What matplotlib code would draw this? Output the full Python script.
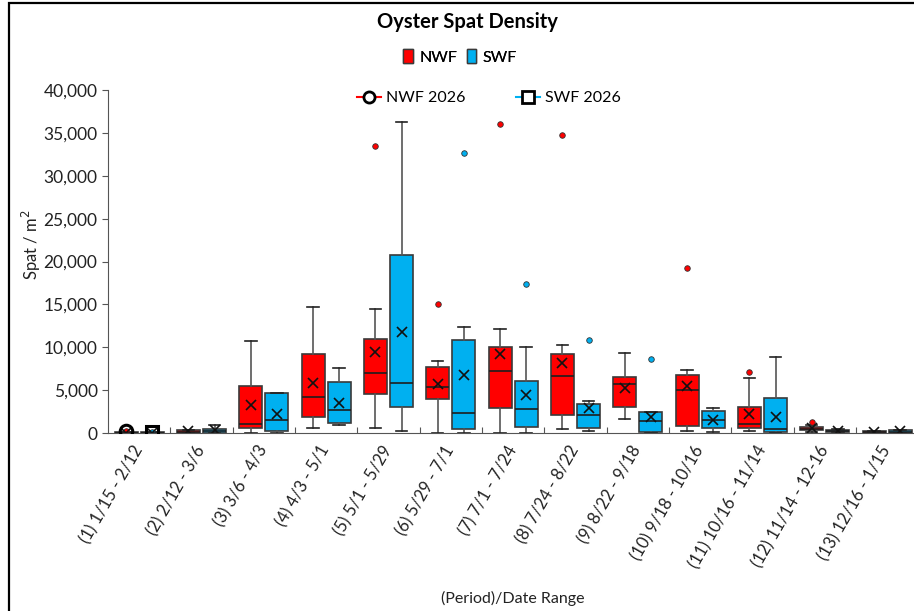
import matplotlib
matplotlib.use("Agg")
import matplotlib.pyplot as plt
from matplotlib.patches import Patch, Rectangle
from matplotlib.lines import Line2D
from matplotlib.ticker import FuncFormatter, MultipleLocator

plt.rcParams["font.family"] = ["Lato", "DejaVu Sans"]

# ── data ─────────────────────────────────────────────────────
periods = ["(1) 1/15 - 2/12", "(2) 2/12 - 3/6", "(3) 3/6 - 4/3", "(4) 4/3 - 5/1",
           "(5) 5/1 - 5/29", "(6) 5/29 - 7/1", "(7) 7/1 - 7/24", "(8) 7/24 - 8/22",
           "(9) 8/22 - 9/18", "(10) 9/18 - 10/16", "(11) 10/16 - 11/14",
           "(12) 11/14 - 12-16", "(13) 12/16 - 1/15"]

nwf_lo = [0, 0, 0, 550, 550, 0, 0, 430, 1630, 200, 230, 150, 0]
nwf_q1 = [0, 40, 550, 1830, 4590, 3970, 2880, 2100, 3070, 820, 550, 320, 30]
nwf_med = [20, 120, 1010, 4160, 7040, 5330, 7230, 6610, 5750, 4980, 1010, 430, 100]
nwf_q3 = [60, 350, 5480, 9250, 10960, 7660, 10070, 9180, 6500, 6800, 3000, 670, 200]
nwf_hi = [100, 350, 10760, 14690, 14460, 8400, 12130, 10260, 9370, 7310, 6380, 900, 250]
nwf_mean = [40, 230, 3270, 5830, 9450, 5750, 9180, 8160, 5210, 5520, 2220, 550, 120]
nwf_fliers = [[200], [], [], [], [33470], [15010], [36030], [34750], [], [19240], [7150], [1250], []]

swf_lo = [0, 0, 0, 970, 230, 0, 0, 230, 0, 80, 0, 100, 0]
swf_q1 = [0, 40, 230, 1170, 3000, 430, 670, 550, 80, 550, 80, 150, 50]
swf_med = [20, 200, 1520, 2650, 5870, 2300, 2760, 2100, 1360, 1520, 470, 250, 150]
swf_q3 = [60, 470, 4670, 5950, 20800, 10850, 6060, 3380, 2410, 2530, 4050, 380, 350]
swf_hi = [100, 930, 4670, 7540, 36230, 12330, 9990, 3730, 2410, 2950, 8830, 450, 400]
swf_mean = [40, 370, 2220, 3500, 11740, 6800, 4430, 2880, 1900, 1480, 1900, 280, 200]
swf_fliers = [[150], [], [], [], [], [32620], [17380], [10850], [8630], [], [], [], []]

nwf_2026 = [230]
swf_2026 = [150]

NWF_COLOR = "#FF0000"
SWF_COLOR = "#00B0F0"


def _stats(lo, q1, med, q3, hi, mean, fliers):
    return [dict(whislo=a, q1=b, med=c, q3=d, whishi=e, mean=f, fliers=g)
            for a, b, c, d, e, f, g in zip(lo, q1, med, q3, hi, mean, fliers)]


fig = plt.figure(figsize=(9.14, 6.11), dpi=100)
ax = fig.add_axes([108 / 914, 178 / 611, 810.3 / 914, 343 / 611])

x = list(range(len(periods)))
off, width = 0.21, 0.37

for stats, color, sign in [
    (_stats(nwf_lo, nwf_q1, nwf_med, nwf_q3, nwf_hi, nwf_mean, nwf_fliers), NWF_COLOR, -1),
    (_stats(swf_lo, swf_q1, swf_med, swf_q3, swf_hi, swf_mean, swf_fliers), SWF_COLOR, 1),
]:
    ax.bxp(stats, positions=[i + sign * off for i in x], widths=width,
           patch_artist=True, showmeans=True, manage_ticks=False,
           boxprops=dict(facecolor=color, edgecolor="#3a3a3a", lw=1.2),
           medianprops=dict(color="#1e1e1e", lw=1.2),
           whiskerprops=dict(color="#555555", lw=1.2),
           capprops=dict(color="#222222", lw=1.2),
           meanprops=dict(marker="x", markeredgecolor="#111111", markersize=7, mew=1.2),
           flierprops=dict(marker="o", markerfacecolor=color, markeredgecolor="#333333",
                           markersize=4, mew=0.6))

ax.plot([x[0] - off][:len(nwf_2026)], nwf_2026, color=NWF_COLOR, marker="o",
        mfc="none", mec="black", mew=2.2, ms=9, zorder=5)
ax.plot([x[0] + off][:len(swf_2026)], swf_2026, color=SWF_COLOR, marker="s",
        mfc="none", mec="black", mew=2.2, ms=9, zorder=5)

ax.set_xlim(-0.5, len(periods) - 0.5)
ax.set_ylim(0, 40000)
ax.yaxis.set_major_locator(MultipleLocator(5000))
ax.yaxis.set_major_formatter(FuncFormatter(lambda v, _: f"{v:,.0f}"))
ax.set_xticks([i + 0.5 for i in x[:-1]], minor=False)
ax.set_xticklabels([])
ax.tick_params(axis="x", direction="in", length=4, color="#555555")
ax.set_xticks(x, minor=True)
ax.set_xticklabels(periods, minor=True, rotation=60, ha="right",
                   rotation_mode="anchor", va="center", fontsize=12, color="#222222")
ax.tick_params(axis="x", which="minor", length=0, pad=10)
ax.tick_params(axis="y", length=4, labelsize=12.5, colors="#222222")
ax.tick_params(axis="y", color="#555555")
for s in ["top", "right"]:
    ax.spines[s].set_visible(False)
ax.spines["left"].set_color("#555555")
ax.spines["bottom"].set_color("#555555")

ax.set_ylabel("Spat / m$^2$", fontsize=12, color="#222222")
ax.yaxis.set_label_coords(-0.08, 0.55)
ax.set_xlabel("(Period)/Date Range", fontsize=11.5, color="#222222")
ax.xaxis.set_label_coords(0.5, -0.46)

fig.text(467 / 914, 1 - 22 / 611, "Oyster Spat Density", ha="center", va="center",
         fontsize=14.5, fontweight="bold")

leg1 = fig.legend(handles=[Patch(facecolor=NWF_COLOR, edgecolor="#3a3a3a", label="NWF"),
                           Patch(facecolor=SWF_COLOR, edgecolor="#3a3a3a", label="SWF")],
                  loc="center", bbox_to_anchor=(460 / 914, 1 - 57 / 611), ncol=2,
                  frameon=False, fontsize=11.5, handlelength=0.6, handleheight=0.9,
                  handletextpad=0.4, columnspacing=0.6)
fig.add_artist(leg1)
fig.legend(handles=[Line2D([], [], color=NWF_COLOR, marker="o", mfc="white", mec="black",
                           mew=2, ms=8, label="NWF 2026"),
                    Line2D([], [], color=SWF_COLOR, marker="s", mfc="white", mec="black",
                           mew=2, ms=8, label="SWF 2026")],
           loc="center", bbox_to_anchor=(489 / 914, 1 - 98 / 611), ncol=2,
           frameon=False, fontsize=11.5, handlelength=1.5, handletextpad=0.3,
           columnspacing=3.2)

fig.add_artist(Rectangle((9 / 914, -0.05), 1.2, 1.05 - 3 / 611,
                         transform=fig.transFigure, fill=False, ec="black", lw=1.6))

fig.savefig("out.png", dpi=100)
